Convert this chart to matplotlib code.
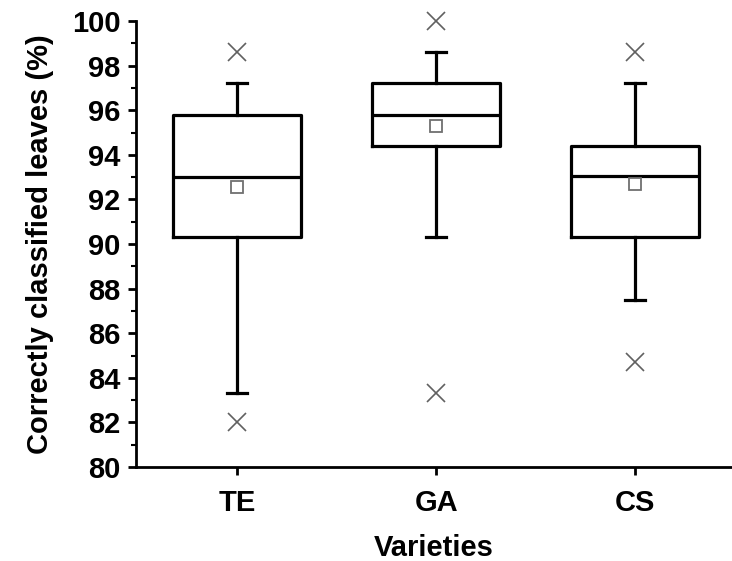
import matplotlib
matplotlib.use("Agg")
import matplotlib.pyplot as plt
from matplotlib.ticker import MultipleLocator

plt.rcParams['font.family'] = ['Liberation Sans', 'DejaVu Sans']
plt.rcParams['font.weight'] = 'bold'

categories = ["TE", "GA", "CS"]
q1 = [90.3, 94.4, 90.3]
med = [93.0, 95.8, 93.05]
q3 = [95.8, 97.2, 94.4]
whislo = [83.3, 90.3, 87.5]
whishi = [97.2, 98.6, 97.2]
means = [92.55, 95.3, 92.7]
outliers = [[98.6, 82.0], [100.0, 83.3], [98.6, 84.7]]

stats = []
for i, c in enumerate(categories):
    stats.append(dict(label=c, q1=q1[i], med=med[i], q3=q3[i], whislo=whislo[i],
                      whishi=whishi[i], mean=means[i], fliers=outliers[i]))

fig = plt.figure(figsize=(7.32, 5.61), dpi=100)
ax = fig.add_axes([136/732, 94/561, 1 - 136/732, (467-21)/561])

lw = 2.3
ax.bxp(stats, positions=[1, 2, 3], widths=0.64, showmeans=True, patch_artist=False,
       boxprops=dict(color='black', linewidth=lw),
       medianprops=dict(color='black', linewidth=lw),
       whiskerprops=dict(color='black', linewidth=lw),
       capprops=dict(color='black', linewidth=lw),
       capwidths=0.1,
       meanprops=dict(marker='s', markerfacecolor='white', markeredgecolor='#707070',
                      markersize=9, markeredgewidth=1.3),
       flierprops=dict(marker='x', markeredgecolor='#606060', markersize=12.5,
                       markeredgewidth=1.2, linestyle='none'))

for a in ax.lines:
    a.set_clip_on(False)

ax.set_xlim(0.492, 3.487)
ax.set_ylim(80, 100)
ax.yaxis.set_major_locator(MultipleLocator(2))
ax.yaxis.set_minor_locator(MultipleLocator(1))
ax.set_xticks([1, 2, 3])
ax.set_xticklabels(categories)

ax.spines['top'].set_visible(False)
ax.spines['right'].set_visible(False)
ax.spines['left'].set_linewidth(2)
ax.spines['bottom'].set_linewidth(2)
ax.tick_params(axis='both', which='major', direction='out', length=6, width=2,
               labelsize=21, pad=5)
ax.tick_params(axis='y', which='minor', direction='out', length=3.5, width=1.5)
ax.tick_params(axis='x', pad=10)
for t in ax.get_xticklabels() + ax.get_yticklabels():
    t.set_fontweight('bold')

ax.set_xlabel("Varieties", fontsize=21, fontweight='bold', labelpad=12)
ax.set_ylabel("Correctly classified leaves (%)", fontsize=21, fontweight='bold', labelpad=13)

fig.savefig("out.png", dpi=100)
